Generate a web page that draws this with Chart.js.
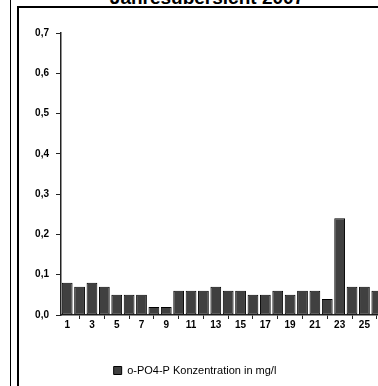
<!DOCTYPE html>
<html>
<head>
<meta charset="utf-8">
<script src="https://cdn.jsdelivr.net/npm/chart.js@4/dist/chart.umd.min.js"></script>
<style>
html,body{margin:0;padding:0;background:#fff;overflow:hidden;width:378px;height:386px;}
#wrap{position:absolute;left:0;top:0;width:383px;height:386px;}
#title{position:absolute;left:0;width:414px;top:-12px;text-align:center;font:bold 19px/19px "Liberation Sans",Arial,sans-serif;color:#000;white-space:nowrap;}
.ln{position:absolute;background:#000;}
</style>
</head>
<body>
<div id="title">Jahresübersicht 2007</div>
<div class="ln" style="left:10px;top:0;width:1px;height:386px;"></div>
<div class="ln" style="left:17px;top:6px;width:2px;height:380px;"></div>
<div class="ln" style="left:17px;top:6px;width:361px;height:2px;"></div>
<div id="wrap"><canvas id="c" width="383" height="386"></canvas></div>
<script>
const categories = ["1","2","3","4","5","6","7","8","9","10","11","12","13","14","15","16","17","18","19","20","21","22","23","24","25","26"];
const seriesName = "o-PO4-P Konzentration in mg/l";
const values = [0.08,0.07,0.08,0.07,0.05,0.05,0.05,0.02,0.02,0.06,0.06,0.06,0.07,0.06,0.06,0.05,0.05,0.06,0.05,0.06,0.06,0.04,0.24,0.07,0.07,0.06];
const yTicks = [0,0.1,0.2,0.3,0.4,0.5,0.6,0.7];

const FONT = "'Liberation Sans', Arial, sans-serif";
new Chart(document.getElementById('c'), {
  type: 'bar',
  data: {
    labels: categories,
    datasets: [{
      label: seriesName,
      data: values,
      backgroundColor: '#404040',
      borderColor: '#000',
      borderWidth: 1,
      borderSkipped: false,
      categoryPercentage: 1,
      barPercentage: 0.87
    }]
  },
  options: {
    responsive: false,
    animation: false,
    devicePixelRatio: 1,
    layout: { padding: { left: 7, right: 0, top: 33, bottom: 0 } },
    plugins: {
      title: { display: false },
      tooltip: { enabled: false },
      legend: {
        position: 'bottom',
        labels: {
          boxWidth: 8, boxHeight: 8, padding: 7,
          color: '#000',
          font: { family: FONT, size: 11 }
        }
      }
    },
    scales: {
      x: {
        offset: true,
        afterFit: s => { s.height = 43; },
        grid: { offset: true, drawOnChartArea: false, tickLength: 4, color: '#222', lineWidth: 1 },
        border: { display: true, color: '#222', width: 1.5 },
        ticks: {
          autoSkip: false, maxRotation: 0, padding: 0, color: '#000',
          font: { family: FONT, size: 10, weight: 'bold' },
          callback: function(v, i) { return i % 2 === 0 ? this.getLabelForValue(v) : null; }
        }
      },
      y: {
        min: 0, max: 0.7,
        afterFit: s => { s.width = 54; },
        afterBuildTicks: s => { s.ticks = yTicks.map(v => ({ value: v })); },
        grid: { drawOnChartArea: false, tickLength: 5, color: '#222', lineWidth: 1 },
        border: { display: true, color: '#222', width: 1.5 },
        ticks: {
          padding: 7, color: '#000',
          font: { family: FONT, size: 10, weight: 'bold' },
          callback: v => v.toFixed(1).replace('.', ',')
        }
      }
    }
  }
});
</script>
</body>
</html>
